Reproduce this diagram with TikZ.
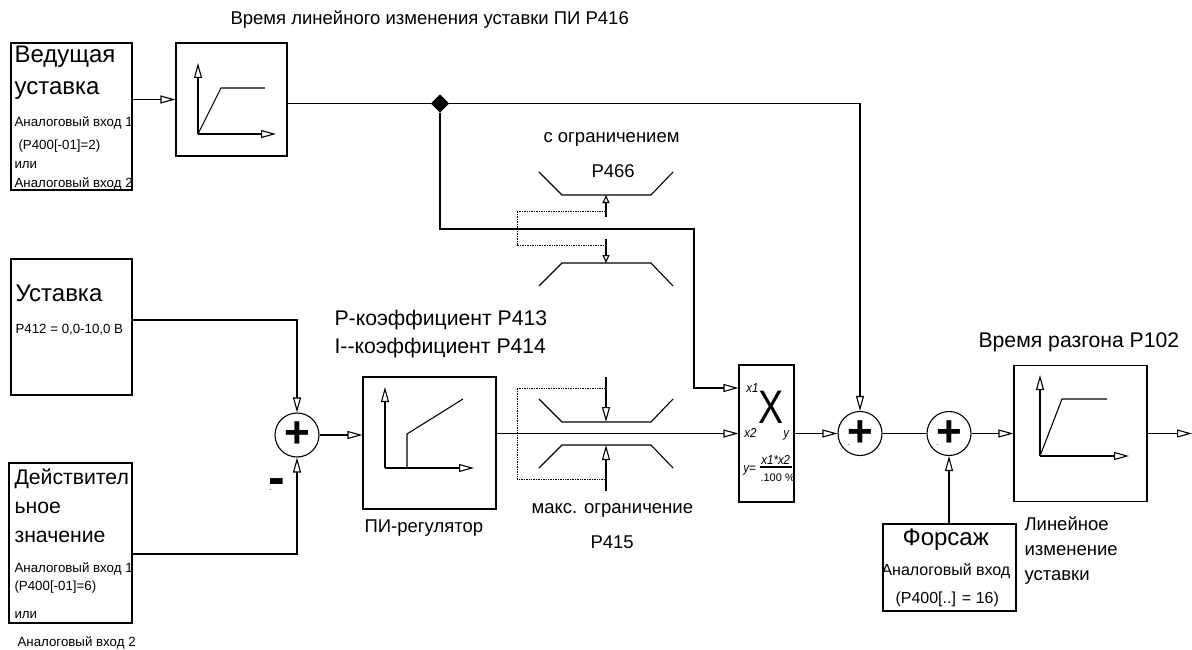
\documentclass[tikz,border=0pt]{standalone}
\usepackage{fontspec}
\setmainfont{Liberation Sans}
\usetikzlibrary{arrows.meta,shapes.geometric}

\tikzset{
  flow/.style={-{Triangle[open,length=15pt,width=8pt]}},
  flowshort/.style={-{Triangle[open,length=8pt,width=7pt]}},
  block/.style={draw, inner sep=0pt},
  sumnode/.style={draw, circle, fill=white, minimum size=44pt, inner sep=0pt, font=\fontsize{44}{44}\selectfont\bfseries},
  lbl/.style={anchor=base west, inner sep=0pt},
  huge/.style={lbl, font=\fontsize{24}{26}\selectfont},
  mid/.style={lbl, font=\fontsize{21.2}{24}\selectfont},
  head/.style={lbl, font=\fontsize{18.5}{20}\selectfont},
  bighead/.style={lbl, font=\fontsize{21.2}{23}\selectfont},
  tiny/.style={lbl, font=\fontsize{13.3}{15}\selectfont},
  medtxt/.style={lbl, font=\fontsize{16}{18}\selectfont},
  calc/.style={lbl, font=\fontsize{13}{15}\selectfont\itshape, xscale=0.88},
}

\begin{document}
\begin{tikzpicture}[x=1pt, y=-1pt, line width=1.1pt, every node/.style={align=left}]
\useasboundingbox (0,0) rectangle (1192,650);

\node[block, minimum width=121, minimum height=147] (lead) at (71.5,116.5) {};
\node[block, minimum width=111, minimum height=113] (rampa) at (231.5,99.5) {};
\node[block, minimum width=121, minimum height=136] (setp) at (71.5,327) {};
\node[block, minimum width=123, minimum height=160] (actual) at (70.5,543) {};
\node[block, minimum width=133, minimum height=132] (pid) at (429.5,443) {};
\node[block, minimum width=55, minimum height=137] (mult) at (766.5,433.5) {};
\node[block, minimum width=133, minimum height=136] (rampb) at (1080.5,433.5) {};
\node[block, minimum width=133, minimum height=87] (boost) at (949.5,567.5) {};
\node[sumnode] (suma) at (297,435) {\raisebox{-2.5pt}{+}};
\node[sumnode] (sumb) at (860,433.5) {\raisebox{-2.5pt}{+}};
\node[sumnode] (sumc) at (949,433.5) {\raisebox{-2.5pt}{+}};
\node[draw, diamond, fill=black, minimum size=17pt, inner sep=0pt] (tap) at (440,103.5) {};
\coordinate (bend) at (694,229);
\coordinate (outend) at (1192,433.5);

\node[head] (ttop) at (230,25) {Время линейного изменения уставки ПИ P416};
\node[huge] (tlead) at (14,63) {Ведущая};
\node[huge] (tleadb) at (14,95) {уставка};
\node[tiny] (tleadc) at (14,127) {Аналоговый вход 1};
\node[tiny] (tleadd) at (18,150) {(P400[-01]=2)};
\node[tiny] (tleade) at (14,168) {или};
\node[tiny] (tleadf) at (14,188) {Аналоговый вход 2};
\node[huge] (tset) at (15,301) {Уставка};
\node[tiny] (tsetb) at (15,333) {P412 = 0,0-10,0 В};
\node[mid] (tact) at (14,484) {Действител};
\node[mid] (tactb) at (14,513) {ьное};
\node[mid] (tactc) at (14,542) {значение};
\node[tiny] (tactd) at (14,572) {Аналоговый вход 1};
\node[tiny] (tacte) at (14,590) {(P400[-01]=6)};
\node[tiny] (tactf) at (14,618) {или};
\node[tiny] (tactg) at (17,646) {Аналоговый вход 2};
\node[bighead] (tpa) at (334,325) {P-коэффициент P413};
\node[bighead] (tpb) at (334,353) {I{-}{-}коэффициент P414};
\node[head] (tpid) at (364,532) {ПИ-регулятор};
\node[head] (tmax) at (531,513) {макс. ограничение};
\node[head] (tmaxb) at (590,548) {P415};
\node[head] (tlim) at (543,143) {с ограничением};
\node[head] (tlimb) at (591,178) {P466};
\node[bighead] (tacc) at (978,347) {Время разгона P102};
\node[head] (tlin) at (1024,530) {Линейное};
\node[head] (tlinb) at (1024,555) {изменение};
\node[head] (tlinc) at (1024,580) {уставки};
\node[huge] (tboost) at (902,545) {Форсаж};
\node[medtxt] (tboostb) at (881,575) {Аналоговый вход};
\node[medtxt] (tboostc) at (895,603) {(P400[..] = 16)};
\node[lbl, font=\fontsize{47}{49}\selectfont, xscale=0.8] (tcross) at (758,423) {X};
\node[calc] (tx) at (746,392) {x1};
\node[calc] (txb) at (744,437) {x2};
\node[calc] (ty) at (783,437) {y};
\node[calc] (tyb) at (743,472) {y=};
\node[calc] (tnum) at (761,464) {x1*x2};
\node[lbl, font=\fontsize{11}{13}\selectfont] (tden) at (760,481) {.100 \%};
\node[lbl, font=\fontsize{50}{52}\selectfont\bfseries] (tminus) at (268,494) {-};
\node[lbl, font=\fontsize{6}{7}\selectfont] (tdota) at (269,491) {-};
\node[lbl, font=\fontsize{6}{7}\selectfont] (tdotb) at (847,446) {-};
\node[lbl, font=\fontsize{6}{7}\selectfont] (tdotc) at (936,446) {-};

\draw[flow] (lead.east |- rampa.west) -- (rampa.west);
\draw (rampa.east |- tap) -- (tap);
\draw[flow] (tap.east) -| (sumb.north);
\draw[flow] (tap.south) |- (bend) |- (mult.west |- 0,388);
\draw[flow] (setp.east |- 0,320) -| (suma.north);
\draw[flow] (actual.east |- 0,554) -| (suma.south);
\draw[flow] (suma.east) -- (pid.west |- suma.east);
\draw[flow] (pid.east |- mult.west) -- (mult.west);
\draw[flow] (mult.east) -- (sumb.west);
\draw (sumb.east) -- (sumc.west);
\draw[flow] (boost.north -| sumc) -- (sumc.south);
\draw[flow] (sumc.east) -- (rampb.west);
\draw[flow] (rampb.east) -- (outend);

\draw[flow] (198,134) -- ++(0,-71);
\draw[flow] (198,134) -- ++(78,0);
\draw (198,134) -- ++(23,-46) -- ++(44,0);
\draw[flow] (385,468) -- ++(0,-81);
\draw[flow] (385,468) -- ++(89,0);
\draw (407,468) -- ++(0,-34) -- ++(56,-35);
\draw[flow] (1040,456) -- ++(0,-81);
\draw[flow] (1040,456) -- ++(89,0);
\draw (1040,456) -- ++(22,-57) -- ++(45,0);

\draw (539,172) -- (562,195) -- (651,195) -- (673,172);
\draw (539,286) -- (562,263) -- (651,263) -- (673,286);
\draw (539,399) -- (562,422) -- (651,422) -- (673,399);
\draw (539,468) -- (562,445) -- (651,445) -- (673,468);
\draw[flowshort] (606,217) -- (606,195);
\draw[flowshort] (606,239) -- (606,263);
\draw[flow] (606,377) -- (606,422);
\draw[flow] (606,491) -- (606,445);
\draw[densely dotted, line width=0.7pt] (606,211) -| (517,245) -- (606,245);
\draw[densely dotted, line width=0.7pt] (606,388) -| (517,479) -- (606,479);
\draw (760,467) -- (792,467);
\end{tikzpicture}
\end{document}
